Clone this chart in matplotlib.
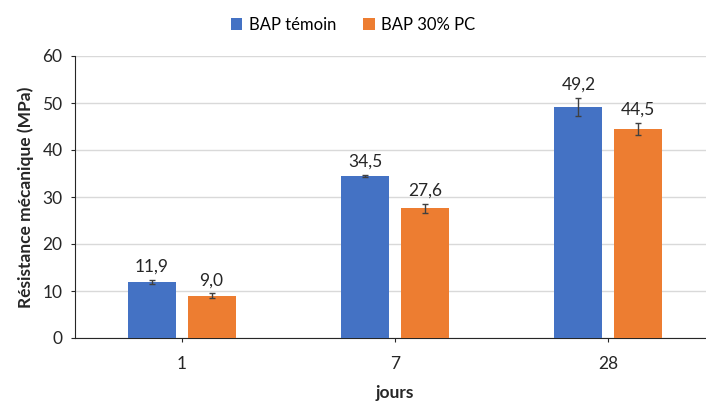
import matplotlib.pyplot as plt
import numpy as np

plt.rcParams['font.family'] = ['Lato', 'DejaVu Sans']

jours = ['1', '7', '28']
temoin = [11.9, 34.5, 49.2]
pc30 = [9.0, 27.6, 44.5]
err_temoin = [0.4, 0.2, 1.9]
err_pc30 = [0.5, 0.9, 1.3]
series_names = ['BAP témoin', 'BAP 30% PC']

blue = '#4472C4'
orange = '#ED7D31'

fig = plt.figure(figsize=(7.06, 4.01), dpi=100)
ax = fig.add_axes([75 / 706, 1 - 338 / 401, 640 / 706, 282 / 401])

x = np.arange(len(jours))
w = 0.225
off = 0.14
ekw = dict(ecolor='#404040', capsize=2.5, elinewidth=1, capthick=1)
ax.bar(x - off, temoin, w, color=blue, yerr=err_temoin, error_kw=ekw,
       label=series_names[0], zorder=3)
ax.bar(x + off, pc30, w, color=orange, yerr=err_pc30, error_kw=ekw,
       label=series_names[1], zorder=3)

for xi, v, e in zip(x - off, temoin, err_temoin):
    ax.text(xi, v + e + 1.1, f"{v:.1f}".replace('.', ','), ha='center',
            va='bottom', fontsize=12.5, color='#262626')
for xi, v, e in zip(x + off, pc30, err_pc30):
    ax.text(xi, v + e + 1.1, f"{v:.1f}".replace('.', ','), ha='center',
            va='bottom', fontsize=12.5, color='#262626')

ax.set_ylim(0, 60)
ax.set_yticks(range(0, 61, 10))
ax.set_xlim(-0.5, 2.5)
ax.set_xticks(x)
ax.set_xticklabels(jours)
ax.yaxis.grid(True, color='#d9d9d9', linewidth=1, zorder=0)
ax.set_axisbelow(True)
for s in ['top', 'right']:
    ax.spines[s].set_visible(False)
ax.spines['left'].set_color('#262626')
ax.spines['bottom'].set_color('#262626')
ax.tick_params(axis='both', labelsize=12.5, colors='#262626', length=3)
ax.tick_params(axis='y', pad=6)
ax.tick_params(axis='x', pad=10)

ax.set_ylabel('Résistance mécanique (MPa)', fontsize=12.5, fontweight='bold',
              color='#262626', labelpad=6)
ax.set_xlabel('jours', fontsize=12.5, fontweight='bold', color='#262626',
              labelpad=9)

fig.legend(loc='upper center', bbox_to_anchor=(0.5, 0.995), ncol=2,
           frameon=False, fontsize=12, handlelength=0.7, handleheight=0.7,
           columnspacing=1.6, handletextpad=0.4)

fig.savefig('out.png', dpi=100)
